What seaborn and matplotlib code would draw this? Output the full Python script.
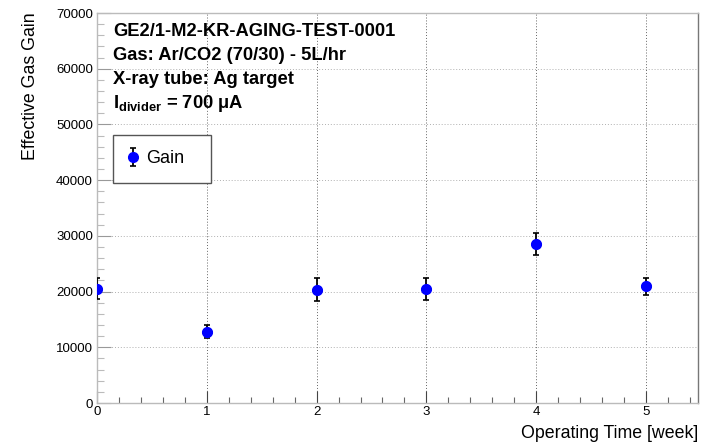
import matplotlib
matplotlib.use("Agg")
import matplotlib.pyplot as plt
from matplotlib.ticker import MultipleLocator
import seaborn as sns
import pandas as pd

# Measured effective gas gain per week of operation
weeks = [0, 1, 2, 3, 4, 5]
gain = [20500, 12800, 20350, 20450, 28500, 20950]
gain_err = [1900, 1150, 2050, 1900, 1950, 1500]

info_lines = [
    "GE2/1-M2-KR-AGING-TEST-0001",
    "Gas: Ar/CO2 (70/30) - 5L/hr",
    "X-ray tube: Ag target",
    r"I$_{\mathbf{divider}}$ = 700 μA",
]

sns.set_style("white", {"xtick.bottom": True, "ytick.left": True})
plt.rcParams["font.family"] = ["Liberation Sans", "DejaVu Sans"]
plt.rcParams["mathtext.fontset"] = "custom"
plt.rcParams["mathtext.rm"] = "Liberation Sans"
plt.rcParams["mathtext.bf"] = "Liberation Sans:bold"
plt.rcParams["text.color"] = "black"
plt.rcParams["xtick.labelcolor"] = "black"
plt.rcParams["ytick.labelcolor"] = "black"

df = pd.DataFrame({"week": weeks, "gain": gain, "err": gain_err})

W, H = 702, 447
fig = plt.figure(figsize=(W / 100, H / 100), dpi=100)
ax = fig.add_axes([97 / W, 44 / H, 601 / W, 390 / H])

ax.set_xlim(0, 5.474)
ax.set_ylim(0, 70000)

# grid
ax.xaxis.set_major_locator(MultipleLocator(1))
ax.xaxis.set_minor_locator(MultipleLocator(0.2))
ax.yaxis.set_major_locator(MultipleLocator(10000))
ax.yaxis.set_minor_locator(MultipleLocator(2000))
ax.grid(True, which="major", axis="x", color="#666666", linestyle=(0, (1, 2)), linewidth=0.7)
ax.grid(True, which="major", axis="y", color="#b0b0b0", linestyle=(0, (1, 2)), linewidth=0.7)
ax.set_axisbelow(True)

# points with error bars
eb = ax.errorbar(df["week"], df["gain"], yerr=df["err"], fmt="o", color="blue",
                 ecolor="black", elinewidth=1.3, capsize=2, capthick=1.2,
                 markersize=7, label="Gain", zorder=3)
sns.scatterplot(data=df, x="week", y="gain", color="blue", s=55, edgecolor="blue",
                linewidth=0, ax=ax, zorder=4, legend=False)
ax.set_xlabel("")
ax.set_ylabel("")

# ticks
ax.tick_params(axis="both", which="both", direction="in", labelsize=9.5, pad=3,
               bottom=True, left=True, labelcolor="black")
ax.tick_params(axis="y", which="major", length=10, color="#999999", width=0.8)
ax.tick_params(axis="y", which="minor", length=5, color="#bbbbbb", width=0.8)
ax.tick_params(axis="x", which="major", length=9, color="#444444", width=0.8)
ax.tick_params(axis="x", which="minor", length=4.5, color="#666666", width=0.8)
ax.tick_params(axis="x", pad=2)
ax.set_xticklabels([f"{int(t)}" for t in ax.get_xticks()])

for side in ["left", "bottom", "top"]:
    ax.spines[side].set_color("#bbbbbb")
    ax.spines[side].set_linewidth(1)
ax.spines["right"].set_color("#777777")
ax.spines["right"].set_linewidth(1)

# axis titles
fig.text(31 / W, 1 - 12 / H, "Effective Gas Gain", rotation=90, ha="center", va="top",
         fontsize=12.8, color="black")
fig.text(698 / W, 1 - 433 / H, "Operating Time [week]", ha="right", va="center",
         fontsize=12.8, color="black")

# info block
for i, line in enumerate(info_lines):
    fig.text(113 / W, 1 - (31 + 24 * i) / H, line, ha="left", va="center",
             fontsize=13.2, fontweight="bold", color="black")

leg = ax.legend(handles=[eb], labels=["Gain"], loc="upper left",
                bbox_to_anchor=(113 / W, 1 - 183 / H, 98 / W, 48 / H),
                bbox_transform=fig.transFigure, mode="expand",
                fontsize=13, frameon=True, fancybox=False, handlelength=0.5,
                handletextpad=0.5, borderpad=0.85, borderaxespad=0)
leg.get_frame().set_edgecolor("#555555")
leg.get_frame().set_linewidth(1)
leg.get_frame().set_alpha(1)
for t in leg.get_texts():
    t.set_color("black")

fig.savefig("out.png", dpi=100)
